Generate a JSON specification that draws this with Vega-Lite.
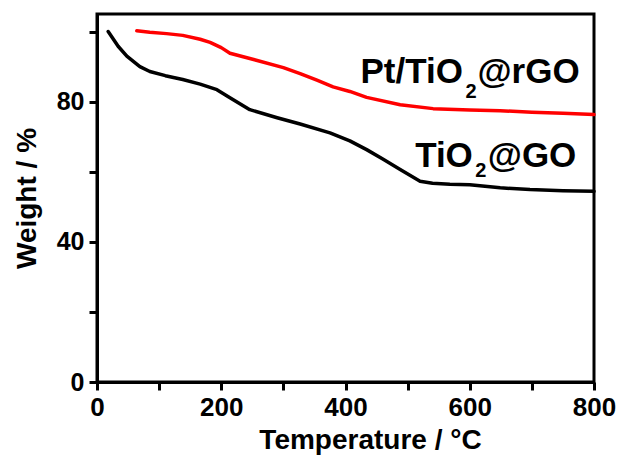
{
  "$schema": "https://vega.github.io/schema/vega-lite/v6.json",
  "width": 497,
  "height": 368,
  "autosize": {"type": "none"},
  "padding": {"left": 97, "top": 14, "right": 27, "bottom": 74},
  "background": "white",
  "config": {
    "view": {"stroke": "black", "strokeWidth": 3},
    "axis": {
      "grid": false,
      "domainColor": "black",
      "domainWidth": 3,
      "tickColor": "black",
      "tickWidth": 3,
      "tickSize": 8,
      "labelColor": "black",
      "labelFont": "Liberation Sans",
      "labelFontWeight": "bold",
      "labelFontSize": 25,
      "titleColor": "black",
      "titleFont": "Liberation Sans",
      "titleFontWeight": "bold",
      "titleFontSize": 28
    }
  },
  "datasets": {
    "curves": [
      {"series": "TiO2@GO", "T": 18, "W": 100},
      {"series": "TiO2@GO", "T": 34, "W": 95.8},
      {"series": "TiO2@GO", "T": 48, "W": 93},
      {"series": "TiO2@GO", "T": 69, "W": 90},
      {"series": "TiO2@GO", "T": 85, "W": 88.6},
      {"series": "TiO2@GO", "T": 110, "W": 87.4},
      {"series": "TiO2@GO", "T": 138, "W": 86.3},
      {"series": "TiO2@GO", "T": 166, "W": 85},
      {"series": "TiO2@GO", "T": 193, "W": 83.4},
      {"series": "TiO2@GO", "T": 214, "W": 81.1},
      {"series": "TiO2@GO", "T": 246, "W": 77.7},
      {"series": "TiO2@GO", "T": 290, "W": 75.4},
      {"series": "TiO2@GO", "T": 327, "W": 73.6},
      {"series": "TiO2@GO", "T": 375, "W": 71.1},
      {"series": "TiO2@GO", "T": 407, "W": 68.8},
      {"series": "TiO2@GO", "T": 434, "W": 66.3},
      {"series": "TiO2@GO", "T": 460, "W": 63.6},
      {"series": "TiO2@GO", "T": 488, "W": 60.6},
      {"series": "TiO2@GO", "T": 520, "W": 57.3},
      {"series": "TiO2@GO", "T": 540, "W": 56.7},
      {"series": "TiO2@GO", "T": 568, "W": 56.4},
      {"series": "TiO2@GO", "T": 600, "W": 56.3},
      {"series": "TiO2@GO", "T": 649, "W": 55.4},
      {"series": "TiO2@GO", "T": 697, "W": 54.9},
      {"series": "TiO2@GO", "T": 750, "W": 54.6},
      {"series": "TiO2@GO", "T": 800, "W": 54.4},
      {"series": "Pt/TiO2@rGO", "T": 64, "W": 100.2},
      {"series": "Pt/TiO2@rGO", "T": 85, "W": 99.8},
      {"series": "Pt/TiO2@rGO", "T": 112, "W": 99.4},
      {"series": "Pt/TiO2@rGO", "T": 138, "W": 98.9},
      {"series": "Pt/TiO2@rGO", "T": 166, "W": 97.8},
      {"series": "Pt/TiO2@rGO", "T": 182, "W": 96.9},
      {"series": "Pt/TiO2@rGO", "T": 200, "W": 95.4},
      {"series": "Pt/TiO2@rGO", "T": 214, "W": 93.8},
      {"series": "Pt/TiO2@rGO", "T": 246, "W": 92.3},
      {"series": "Pt/TiO2@rGO", "T": 300, "W": 89.7},
      {"series": "Pt/TiO2@rGO", "T": 327, "W": 88},
      {"series": "Pt/TiO2@rGO", "T": 354, "W": 86.1},
      {"series": "Pt/TiO2@rGO", "T": 380, "W": 84.2},
      {"series": "Pt/TiO2@rGO", "T": 407, "W": 82.9},
      {"series": "Pt/TiO2@rGO", "T": 434, "W": 81.2},
      {"series": "Pt/TiO2@rGO", "T": 488, "W": 79.1},
      {"series": "Pt/TiO2@rGO", "T": 541, "W": 78},
      {"series": "Pt/TiO2@rGO", "T": 600, "W": 77.6},
      {"series": "Pt/TiO2@rGO", "T": 649, "W": 77.4},
      {"series": "Pt/TiO2@rGO", "T": 700, "W": 77},
      {"series": "Pt/TiO2@rGO", "T": 750, "W": 76.7},
      {"series": "Pt/TiO2@rGO", "T": 800, "W": 76.3}
    ],
    "leftText": [
      {"label": "Pt/TiO", "T": 589, "W": 85.4},
      {"label": "TiO", "T": 605, "W": 61.4}
    ],
    "rightText": [
      {"label": "@rGO", "T": 612.4, "W": 85.4},
      {"label": "@GO", "T": 629, "W": 61.4}
    ],
    "subText": [
      {"label": "2", "T": 602, "W": 81.0},
      {"label": "2", "T": 618, "W": 58.6}
    ]
  },
  "layer": [
    {
      "data": {"name": "curves"},
      "mark": {"type": "line", "strokeWidth": 3.5, "strokeCap": "round", "strokeJoin": "round"},
      "encoding": {
        "x": {
          "field": "T", "type": "quantitative",
          "scale": {"domain": [0, 800], "nice": false},
          "axis": {
            "title": "Temperature / °C",
            "values": [0, 100, 200, 300, 400, 500, 600, 700, 800],
            "labelExpr": "datum.value % 200 === 0 ? datum.label : ''",
            "labelFontSize": 26,
            "labelPadding": 4,
            "titlePadding": 6,
            "titleX": 273,
            "labelFlush": false
          }
        },
        "y": {
          "field": "W", "type": "quantitative",
          "scale": {"domain": [0, 105], "nice": false},
          "axis": {
            "title": "Weight / %",
            "values": [0, 20, 40, 60, 80, 100],
            "labelExpr": "datum.value % 40 === 0 ? datum.label : ''",
            "labelPadding": 5,
            "titlePadding": 15
          }
        },
        "color": {
          "field": "series", "type": "nominal",
          "scale": {"domain": ["TiO2@GO", "Pt/TiO2@rGO"], "range": ["black", "#ff0000"]},
          "legend": null
        },
        "detail": {"field": "series"}
      }
    },
    {
      "data": {"name": "leftText"},
      "mark": {"type": "text", "align": "right", "baseline": "alphabetic", "font": "Liberation Sans", "fontWeight": "bold", "fontSize": 35, "color": "black"},
      "encoding": {
        "x": {"field": "T", "type": "quantitative"},
        "y": {"field": "W", "type": "quantitative"},
        "text": {"field": "label"}
      }
    },
    {
      "data": {"name": "rightText"},
      "mark": {"type": "text", "align": "left", "baseline": "alphabetic", "font": "Liberation Sans", "fontWeight": "bold", "fontSize": 35, "color": "black"},
      "encoding": {
        "x": {"field": "T", "type": "quantitative"},
        "y": {"field": "W", "type": "quantitative"},
        "text": {"field": "label"}
      }
    },
    {
      "data": {"name": "subText"},
      "mark": {"type": "text", "align": "center", "baseline": "alphabetic", "font": "Liberation Sans", "fontWeight": "bold", "fontSize": 20, "color": "black"},
      "encoding": {
        "x": {"field": "T", "type": "quantitative"},
        "y": {"field": "W", "type": "quantitative"},
        "text": {"field": "label"}
      }
    }
  ]
}
